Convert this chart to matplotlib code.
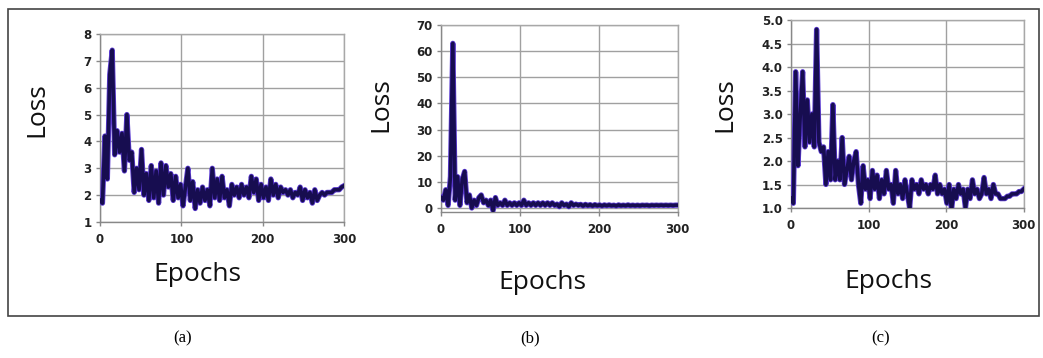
import matplotlib.pyplot as plt
from matplotlib.patches import Rectangle

# epochs (sampled every 3)
epochs = list(range(0, 301, 3))

loss_a = [1.8, 1.7, 4.2, 2.6, 6.5, 7.4, 3.5, 4.4, 3.6, 4.3,
          2.9, 5.0, 3.3, 3.6, 2.1, 3.0, 2.2, 3.7, 2.0, 2.8,
          1.8, 3.1, 1.9, 2.9, 1.7, 3.2, 2.0, 3.1, 2.3, 2.8,
          1.8, 2.7, 1.9, 2.4, 1.6, 2.3, 3.0, 1.8, 2.5, 1.5,
          2.2, 1.7, 2.3, 1.8, 2.2, 1.6, 3.0, 1.9, 2.6, 1.8,
          2.7, 1.9, 2.2, 1.6, 2.4, 2.0, 2.3, 1.9, 2.4, 2.0,
          2.3, 1.9, 2.7, 2.1, 2.6, 1.8, 2.4, 1.9, 2.3, 1.8,
          2.6, 2.0, 2.4, 1.9, 2.3, 2.1, 2.2, 2.0, 2.2, 1.9,
          2.1, 2.0, 2.3, 1.8, 2.2, 1.9, 2.1, 1.7, 2.2, 1.8,
          2.0, 2.1, 2.0, 2.1, 2.1, 2.1, 2.2, 2.2, 2.2, 2.3, 2.35]

loss_b = [4, 3, 7, 1, 12, 63, 3, 12, 1, 11,
          14, 2, 5, 0, 3, 1, 4, 5, 2, 3,
          1, 3, -1, 4, 1, 2, 1, 3, 1, 2,
          1, 2, 1, 2, 1, 3, 1, 2, 1, 2,
          1, 2, 1, 2, 1, 2, 1, 2, 1, 1.5,
          0.5, 2, 1, 1.5, 0.5, 2, 1, 1.5, 1, 1.4,
          0.8, 1.4, 0.9, 1.3, 0.8, 1.3, 0.9, 1.2, 0.8, 1.2,
          0.9, 1.2, 0.9, 1.1, 0.8, 1.2, 0.9, 1.1, 0.9, 1.2,
          0.9, 1.1, 0.9, 1.1, 0.9, 1.1, 1.0, 1.1, 0.9, 1.1,
          1.0, 1.1, 1.0, 1.1, 1.0, 1.1, 1.0, 1.1, 1.0, 1.1, 1.1]

loss_c = [1.2, 1.1, 3.9, 1.9, 3.0, 3.9, 2.3, 3.3, 2.4, 3.0,
          2.3, 4.8, 2.4, 2.2, 2.3, 1.5, 2.2, 1.6, 3.2, 1.6,
          2.0, 1.6, 2.5, 1.5, 1.8, 2.1, 1.6, 2.0, 2.2, 1.5,
          1.1, 1.9, 1.4, 1.6, 1.2, 1.8, 1.4, 1.7, 1.2, 1.6,
          1.3, 1.8, 1.4, 1.5, 1.1, 1.8, 1.3, 1.5, 1.2, 1.6,
          1.3, 1.0, 1.6, 1.4, 1.5, 1.3, 1.6, 1.4, 1.5, 1.3,
          1.5, 1.4, 1.7, 1.3, 1.5, 1.3, 1.4, 1.1, 1.5, 0.95,
          1.4, 1.2, 1.5, 1.3, 1.4, 1.0, 1.4, 1.2, 1.6, 1.3,
          1.4, 1.2, 1.3, 1.65, 1.3, 1.4, 1.2, 1.5, 1.3, 1.3,
          1.2, 1.2, 1.2, 1.25, 1.25, 1.3, 1.3, 1.3, 1.35, 1.35, 1.4]

yticks_a = [1, 2, 3, 4, 5, 6, 7, 8]
yticks_b = [0, 10, 20, 30, 40, 50, 60, 70]
yticks_c = [1.0, 1.5, 2.0, 2.5, 3.0, 3.5, 4.0, 4.5, 5.0]
xticks = [0, 100, 200, 300]
captions = ['(a)', '(b)', '(c)']

fig = plt.figure(figsize=(10.43, 3.58), dpi=100)

# outer frame
fig.patches.append(Rectangle((0.0077, 0.117), 0.988, 0.857, transform=fig.transFigure,
                             fill=False, edgecolor='#444444', linewidth=1.2))

panels = [
    ([0.0959, 0.380, 0.234, 0.525], loss_a, yticks_a, (1, 8), '{:g}', 0.035, 0.693, 0.189, 0.232),
    ([0.4228, 0.408, 0.227, 0.522], loss_b, yticks_b, (-1.5, 70), '{:g}', 0.365, 0.709, 0.520, 0.210),
    ([0.7584, 0.419, 0.223, 0.525], loss_c, yticks_c, (1.0, 5.0), '{:.1f}', 0.695, 0.709, 0.852, 0.215),
]

for rect, vals, yt, ylim, fmt, lx, ly, ex, ey in panels:
    ax = fig.add_axes(rect)
    ax.plot(epochs, vals, color='#5a3ad0', linewidth=3.8, solid_joinstyle='round', zorder=3)
    ax.plot(epochs, vals, color='#170d50', linewidth=2.6, solid_joinstyle='round', zorder=4)
    ax.set_xlim(0, 300)
    ax.set_ylim(*ylim)
    ax.set_xticks(xticks)
    ax.set_yticks(yt)
    ax.set_yticklabels([fmt.format(v) for v in yt])
    ax.grid(True, color='#a0a0a0', linewidth=1.0)
    ax.set_axisbelow(True)
    for s in ax.spines.values():
        s.set_color('#a8a8a8')
        s.set_linewidth(1.0)
    ax.spines['left'].set_color('#888888')
    ax.spines['bottom'].set_color('#888888')
    ax.tick_params(axis='y', length=3, width=1, color='#888888', pad=3, labelsize=8.5, labelcolor='#222222')
    ax.tick_params(axis='x', length=3, width=1, color='#888888', pad=5, labelsize=8.5, labelcolor='#222222')
    for lab in ax.get_xticklabels() + ax.get_yticklabels():
        lab.set_fontweight('bold')
    fig.text(lx, ly, 'Loss', rotation=90, ha='center', va='center', fontsize=19,
             family='Open Sans', color='#111111')
    fig.text(ex, ey, 'Epochs', ha='center', va='center', fontsize=19,
             family='Open Sans', color='#111111')

for x, c in zip([0.175, 0.508, 0.844], captions):
    fig.text(x, 0.055, c, ha='center', va='center', fontsize=12, family='Liberation Serif')

fig.savefig('out.png', dpi=100, facecolor='white')
